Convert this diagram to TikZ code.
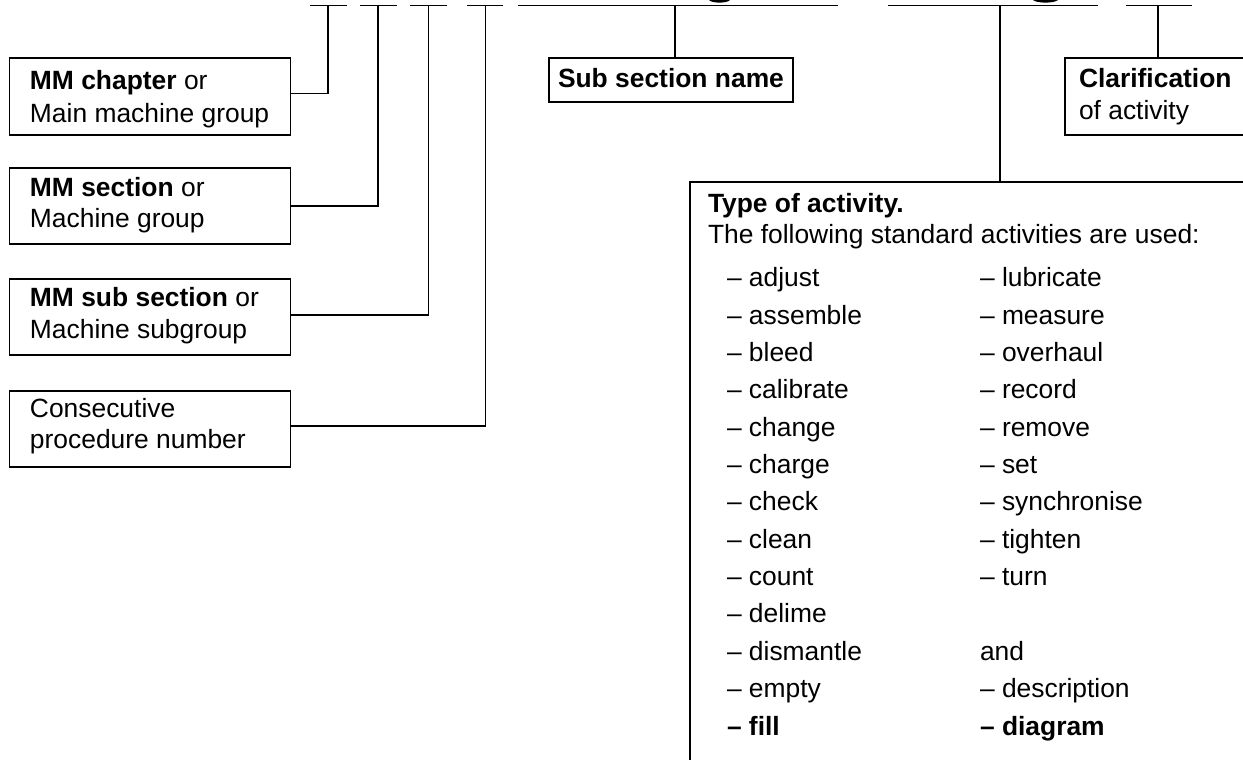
\documentclass[tikz,border=0pt]{standalone}
\usepackage{fontspec}
\setmainfont{Liberation Sans}
\begin{document}
\begin{tikzpicture}[x=0.5pt,y=-0.5pt]
\tikzset{
  frame/.style={draw, line width=0.65pt, inner sep=0pt, outer sep=0pt, anchor=north west},
  lbl/.style={anchor=base west, inner sep=0pt, outer sep=0pt, font=\fontsize{13.2pt}{16pt}\selectfont},
  lblb/.style={lbl, font=\fontsize{13.2pt}{16pt}\selectfont\bfseries},
  wire/.style={line width=0.65pt},
}
\useasboundingbox (0,0) rectangle (1243,760);
\clip (0,0) rectangle (1243,760);

% top tick points
\coordinate (t1) at (328,5.7);
\coordinate (t2) at (378,5.7);
\coordinate (t3) at (428.5,5.7);
\coordinate (t4) at (485.5,5.7);
\coordinate (t5) at (675,5.7);
\coordinate (t6) at (1000,5.7);
\coordinate (t7) at (1158,5.7);

% top underline segments
\draw[wire] (310,5.7) -- (347,5.7);
\draw[wire] (360,5.7) -- (397,5.7);
\draw[wire] (410,5.7) -- (447,5.7);
\draw[wire] (467,5.7) -- (503,5.7);
\draw[wire] (518,5.7) -- (838,5.7);
\draw[wire] (888,5.7) -- (1098,5.7);
\draw[wire] (1126,5.7) -- (1192,5.7);

% clipped descenders of the title text
\fill (709,0) .. controls (712,3.5) and (727,3.5) .. (730,0) -- cycle;
\fill (1033,0) .. controls (1037,3.5) and (1054,3.5) .. (1058,0) -- cycle;

% left boxes
\node[frame, minimum width=140.7pt, minimum height=38.5pt] (b1) at (9.3,58) {};
\node[frame, minimum width=140.7pt, minimum height=38pt] (b2) at (9.3,168) {};
\node[frame, minimum width=140.7pt, minimum height=38pt] (b3) at (9.3,279) {};
\node[frame, minimum width=140.7pt, minimum height=38pt] (b4) at (9.3,391) {};

\node[lbl] (b1a) at (30,90) {\textbf{MM chapter} or};
\node[lbl] (b1b) at (30,122) {Main machine group};
\node[lbl] (b2a) at (30,196) {\textbf{MM section} or};
\node[lbl] (b2b) at (30,227) {Machine group};
\node[lbl] (b3a) at (30,306) {\textbf{MM sub section} or};
\node[lbl] (b3b) at (30,338) {Machine subgroup};
\node[lbl] (b4a) at (30,417) {Consecutive};
\node[lbl] (b4b) at (30,448) {procedure number};

% sub section box
\node[frame, minimum width=122pt, minimum height=22pt] (sub) at (549,58) {};
\node[lblb] (subt) at (558,87) {Sub section name};

% clarification box
\node[frame, minimum width=120pt, minimum height=38.5pt] (clar) at (1065,58) {};
\node[lblb] (clara) at (1079,87) {Clarification};
\node[lbl] (clarb) at (1079,119) {of activity};

% type of activity box
\node[frame, minimum width=350pt, minimum height=350pt] (act) at (690,182) {};
\node[lblb] (acta) at (708,212) {Type of activity.};
\node[lbl] (actb) at (708,243.3) {The following standard activities are used:};

\foreach \w [count=\k from 0] in {adjust,assemble,bleed,calibrate,change,charge,check,clean,count,delime,dismantle,empty}
  \node[lbl] (l\k) at (727,286.7+37.36*\k) {– \w};
\node[lblb] (l12) at (727,735) {– fill};

\foreach \w [count=\k from 0] in {lubricate,measure,overhaul,record,remove,set,synchronise,tighten,turn}
  \node[lbl] (r\k) at (980,286.7+37.36*\k) {– \w};
\node[lbl] (r10) at (980,660.3) {and};
\node[lbl] (r11) at (980,697.7) {– description};
\node[lblb] (r12) at (980,735) {– diagram};

% connectors
\draw[wire] ([yshift=1.5pt]b1.east) -| (t1);
\draw[wire] (b2.east) -| (t2);
\draw[wire] ([yshift=1pt]b3.east) -| (t3);
\draw[wire] ([yshift=1.5pt]b4.east) -| (t4);
\draw[wire] (t5) -- (t5 |- sub.north);
\draw[wire] (t6) -- (t6 |- act.north);
\draw[wire] (t7) -- (t7 |- clar.north);
\end{tikzpicture}
\end{document}
